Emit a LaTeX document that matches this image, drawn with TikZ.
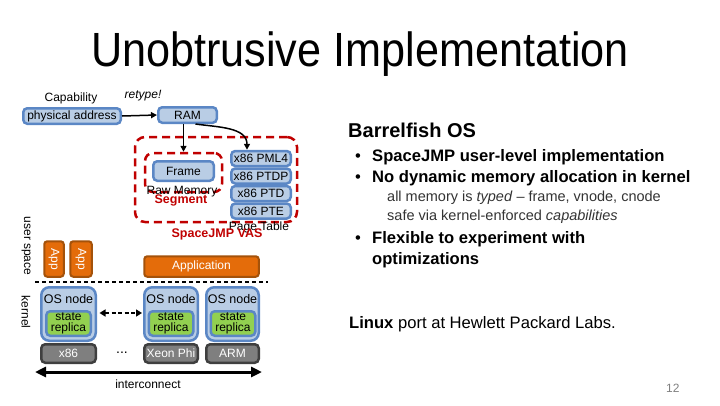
\documentclass[tikz,border=0pt]{standalone}
\usepackage{fontspec}
\setmainfont{Liberation Sans}
\usepackage{graphicx}
\usetikzlibrary{arrows.meta}
\definecolor{bfill}{HTML}{B9CDE5}
\definecolor{bline}{HTML}{5B87C5}
\definecolor{gfill}{HTML}{92D050}
\definecolor{ofill}{HTML}{E46C0A}
\definecolor{oline}{HTML}{A4520A}
\definecolor{grfill}{HTML}{7F7F7F}
\definecolor{grline}{HTML}{3F3F3F}
\definecolor{vasred}{HTML}{C00000}
\newcommand\myfs[1]{\fontsize{#1}{#1}\selectfont}
\tikzset{
  bluebox/.style={draw=bline, fill=bfill, line width=2.5pt, rounded corners=4pt, inner sep=0pt, font=\myfs{12}},
  ptbox/.style={bluebox, minimum width=59.5pt, minimum height=15pt},
  redbox/.style={draw=vasred, line width=2.5pt, dash pattern=on 8pt off 5pt, rounded corners=10pt, inner sep=0pt},
  orbox/.style={draw=oline, fill=ofill, line width=2pt, rounded corners=3pt, inner sep=0pt, text=white, font=\myfs{12}},
  osbox/.style={bluebox, rounded corners=8pt},
  stbox/.style={draw=bline, fill=gfill, line width=2.5pt, rounded corners=4pt, inner sep=0pt, minimum width=44.5pt, minimum height=24.5pt, align=center, font=\myfs{12}\linespread{0.95}\selectfont},
  hwbox/.style={draw=grline, fill=grfill, line width=2.5pt, rounded corners=4pt, inner sep=0pt, minimum height=18.5pt, text=white, font=\myfs{12}},
  lbl/.style={inner sep=0pt, font=\myfs{12}},
  arr/.style={-{Triangle[length=6pt,width=6pt]}, line width=1.5pt},
  bodytxt/.style={anchor=base west, inner sep=0pt, font=\myfs{16.6}\bfseries},
  subtxt/.style={anchor=base west, inner sep=0pt, font=\myfs{14.5}, text=black!80},
}
\begin{document}
\begin{tikzpicture}[x=1pt,y=-1pt]
\useasboundingbox (0,0) rectangle (720,405);
% title
\node[inner sep=0pt, anchor=base] (title) at (360,66) {\scalebox{0.9}[1]{\myfs{48}Unobtrusive Implementation}};

% capability part
\node[lbl] (cap) at (71,98) {Capability};
\node[lbl, font=\myfs{12}\itshape] (retype) at (143,96) {retype!};
\node[bluebox, minimum width=97.5pt, minimum height=15.5pt] (phys) at (72,116) {physical address};
\node[bluebox, minimum width=58.5pt, minimum height=15.5pt] (ram) at (187.5,115) {RAM};

% VAS
\node[redbox, minimum width=162pt, minimum height=85pt] (vas) at (216,179.5) {};
\node[redbox, minimum width=77pt, minimum height=39pt, rounded corners=8pt] (seg) at (183.5,172.5) {};
\node[bluebox, minimum width=60.5pt, minimum height=19.5pt] (frame) at (183.5,171) {Frame};
\node[lbl] (raw) at (182,192) {Raw Memory};
\node[lbl, font=\myfs{12.5}\bfseries, text=vasred] (segl) at (181,200) {Segment};
\node[ptbox] (pml) at (261,158.5) {x86 PML4};
\node[ptbox] (ptdp) at (261,176) {x86 PTDP};
\node[ptbox] (ptd) at (261,193.5) {x86 PTD};
\node[ptbox] (pte) at (261,211) {x86 PTE};
\node[lbl] (ptl) at (259,227) {Page Table};
\node[lbl, font=\myfs{12.5}\bfseries, text=vasred] (vasl) at (217,234) {SpaceJMP VAS};

\draw[arr] (phys.east) -- (ram.west);
\draw[arr] ([xshift=-4pt]ram.south) -- (seg.north);
\draw[arr] ([xshift=8pt]ram.south) to[out=-8,in=90] ([xshift=-14pt]pml.north);

% side labels
\node[lbl, rotate=-90] (us) at (26,246) {user space};
\node[lbl, rotate=-90] (kn) at (26,312) {kernel};

% apps
\node[orbox, minimum width=19.5pt, minimum height=35.5pt] (app1) at (54,259) {\rotatebox{-90}{App}};
\node[orbox, minimum width=21.5pt, minimum height=35.5pt] (app2) at (81,259) {\rotatebox{-90}{App}};
\node[orbox, minimum width=114.5pt, minimum height=20.5pt] (appl) at (201.5,266.5) {Application};

% user/kernel boundary
\coordinate (bl) at (35,282);
\coordinate (br) at (268,282);
\draw[line width=1.5pt, dash pattern=on 4pt off 3pt] (bl) -- (br);

% OS nodes
\node[osbox, minimum width=54.5pt, minimum height=53.5pt] (os1) at (68.5,314) {};
\node[osbox, minimum width=53.5pt, minimum height=53.5pt] (os2) at (171,314) {};
\node[osbox, minimum width=52.5pt, minimum height=53.5pt] (os3) at (232.5,314) {};
\node[lbl, font=\myfs{12.5}] (os1l) at (68.5,299) {OS node};
\node[lbl, font=\myfs{12.5}] (os2l) at (171,299) {OS node};
\node[lbl, font=\myfs{12.5}] (os3l) at (232.5,299) {OS node};
\node[stbox] (st1) at (68.5,323.5) {state\\replica};
\node[stbox] (st2) at (171,323.5) {state\\replica};
\node[stbox] (st3) at (233,323.5) {state\\replica};
\node[hwbox, minimum width=54.5pt] (hw1) at (68.5,353.5) {x86};
\node[hwbox, minimum width=53.5pt] (hw2) at (171,353.5) {Xeon Phi};
\node[hwbox, minimum width=52.5pt] (hw3) at (232.5,353.5) {ARM};
\node[lbl, font=\myfs{14}] (dots) at (122,353) {...};

\draw[{Triangle[length=6pt,width=7pt]}-{Triangle[length=6pt,width=7pt]}, line width=2pt, dash pattern=on 4pt off 2.5pt, shorten <=2.5pt, shorten >=1pt] (os1.east |- 0,313) -- (os2.west |- 0,313);

% interconnect
\coordinate (il) at (35,372);
\coordinate (ir) at (262,372);
\draw[{Triangle[length=11pt,width=10pt]}-{Triangle[length=11pt,width=10pt]}, line width=3pt] (il) -- (ir);
\node[lbl] (icl) at (148,384) {interconnect};

% right text
\node[anchor=base west, inner sep=0pt, font=\myfs{20}\bfseries] (bos) at (348,137.5) {Barrelfish OS};
\node[anchor=base west, inner sep=0pt, font=\myfs{16.6}] (b1) at (355,161) {•};
\node[bodytxt] (t1) at (372,161) {SpaceJMP user-level implementation};
\node[anchor=base west, inner sep=0pt, font=\myfs{16.6}] (b2) at (355,182) {•};
\node[bodytxt] (t2) at (372,182) {No dynamic memory allocation in kernel};
\node[subtxt] (s1) at (387,201) {all memory is \textit{typed} – frame, vnode, cnode};
\node[subtxt] (s2) at (387,220) {safe via kernel-enforced \textit{capabilities}};
\node[anchor=base west, inner sep=0pt, font=\myfs{16.6}] (b3) at (355,243) {•};
\node[bodytxt] (t3) at (372,243) {Flexible to experiment with};
\node[bodytxt] (t4) at (372,264) {optimizations};
\node[anchor=base west, inner sep=0pt, font=\myfs{16.6}] (lin) at (349,328) {\textbf{Linux} port at Hewlett Packard Labs.};
\node[anchor=base west, inner sep=0pt, font=\myfs{12}, text=black!50] (pg) at (666,392) {12};
\end{tikzpicture}
\end{document}
